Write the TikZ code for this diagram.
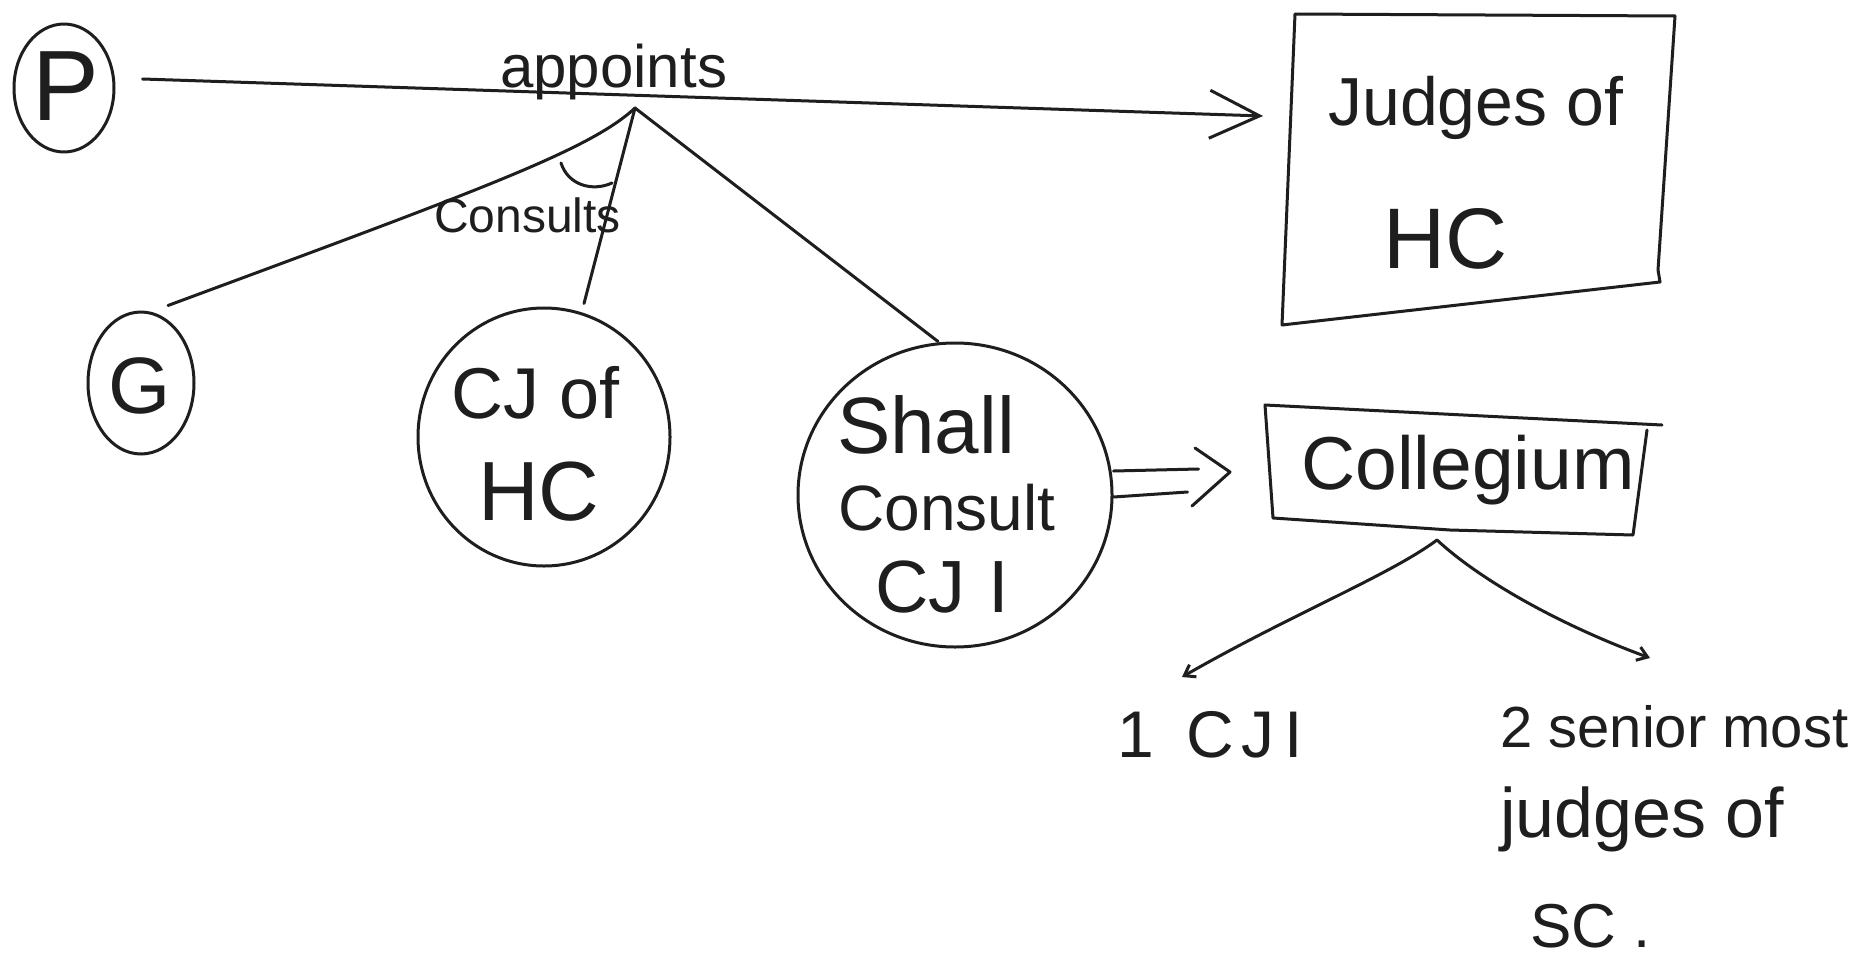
\documentclass[tikz,border=0pt]{standalone}
\usepackage{fontspec}
\setmainfont{Liberation Sans}
\usetikzlibrary{shapes.geometric,arrows.meta,calc}
\definecolor{ink}{HTML}{1E1E1E}
\newcommand{\myfs}[1]{\fontsize{#1}{#1}\selectfont}
\tikzset{
  inkline/.style={draw=ink, line width=3pt, line cap=round, line join=round},
  blob/.style={inkline, ellipse, inner sep=0pt},
  lbl/.style={text=ink, inner sep=0pt, anchor=base west},
  lblc/.style={text=ink, inner sep=0pt, anchor=base},
  bighead/.style={-{Straight Barb[length=50pt,width=48pt]}},
  smallhead/.style={-{Straight Barb[length=10pt,width=14pt]}},
}
\begin{document}
\begin{tikzpicture}[x=1pt,y=-1pt]
\useasboundingbox[fill=white] (0,0) rectangle (1859,958);

% P
\node[blob, minimum width=100pt, minimum height=128pt] (P) at (64,88) {};
\node[lblc] (Pt) at (66,120) {\myfs{100}P};

% G
\node[blob, minimum width=106pt, minimum height=142pt] (G) at (141,383) {};
\node[lblc] (Gt) at (140,413) {\myfs{80}G};

% CJ of HC
\node[blob, minimum width=252pt, minimum height=258pt] (cj) at (544,437) {};
\node[lblc] (cj1) at (536,418) {\myfs{72}CJ of};
\node[lblc] (cj2) at (539,520) {\myfs{84}HC};

% Shall consult CJI
\node[blob, minimum width=314pt, minimum height=304pt] (shall) at (955,495) {};
\node[lblc] (sh1) at (926,453) {\myfs{80}Shall};
\node[lblc] (sh2) at (947,530) {\myfs{64}Consult};
\node[lblc] (sh3) at (942,612) {\myfs{74}CJ\hspace{0.3em}I};

% Judges of HC box
\draw[inkline] (1295,14) -- (1675,16) -- (1658,270) -- (1660,282) -- (1282,325) -- cycle;
\node[lbl] (j1) at (1328,125) {\myfs{68}Judges of};
\node[lbl] (j2) at (1383,268) {\myfs{86}HC};

% Collegium box
\draw[inkline] (1662,425) -- (1265,405) -- (1273,518) -- (1450,530) -- (1633,535) -- (1647,430);
\node[lbl] (coll) at (1301,489) {\myfs{75}Collegium};

% main arrow
\coordinate (ap) at (635,108);
\coordinate (jtip) at (1263,116);
\draw[inkline, bighead] ([xshift=27pt,yshift=9pt]P.east) -- (jtip);
\node[lbl] (appt) at (500,88) {\myfs{60}appoints};

% branches
\draw[inkline] (ap) .. controls (590,150) and (480,190) .. ([xshift=27pt,yshift=5pt]G.north);
\draw[inkline] (ap) -- ([xshift=40pt,yshift=3pt]cj.north);
\draw[inkline] (ap) -- ([xshift=-17pt]shall.north);
\draw[inkline] (561,163) .. controls (568,185) and (592,192) .. (612,183);
\node[lbl] (cons) at (434,232) {\myfs{48}Consults};

% double arrow
\coordinate (dtip) at (1230,472);
\draw[inkline] ([yshift=24pt]shall.east) -- ++(85,-2);
\draw[inkline] ([yshift=-2pt]shall.east) -- ++(74,-5);
\draw[inkline] (1195,448) -- (dtip) -- (1192,506);

% collegium branches
\coordinate (cv) at (1437,540);
\coordinate (e1) at (1182,677);
\coordinate (e2) at (1650,658);
\draw[inkline, smallhead] (cv) .. controls (1390,575) and (1290,615) .. (e1);
\draw[inkline, smallhead] (cv) .. controls (1480,580) and (1560,625) .. (e2);

% bottom labels
\node[lbl] (one) at (1117,757) {\myfs{66}1\hspace{.5em}C\hspace{.1em}J\hspace{.15em}I};
\node[lbl] (s1) at (1500,747) {\myfs{58}2 senior most};
\node[lbl] (s2) at (1500,837) {\myfs{70}judges of};
\node[lbl] (s3) at (1530,947) {\myfs{62}SC .};
\end{tikzpicture}
\end{document}
